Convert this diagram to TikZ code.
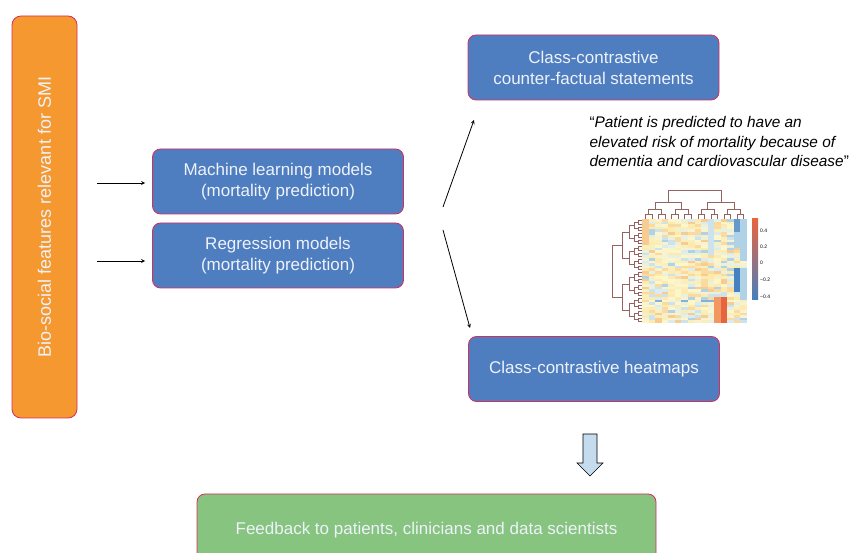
\documentclass[tikz,border=0pt]{standalone}
\usepackage{fontspec}
\setmainfont{Liberation Sans}
\usetikzlibrary{positioning}

\definecolor{boxblue}{RGB}{79,126,192}
\definecolor{boxedge}{RGB}{214,45,95}
\definecolor{boxorange}{RGB}{245,152,47}
\definecolor{boxgreen}{RGB}{134,196,127}
\definecolor{boxtext}{RGB}{238,242,250}
\definecolor{downfill}{RGB}{197,219,238}
\definecolor{dendro}{RGB}{150,100,96}
% heatmap colours
\definecolor{hm0}{RGB}{253,246,200}
\definecolor{hm1}{RGB}{250,238,186}
\definecolor{hm2}{RGB}{246,242,210}
\definecolor{hm3}{RGB}{252,234,175}
\definecolor{hm4}{RGB}{232,240,222}
\definecolor{hm5}{RGB}{250,218,158}
\definecolor{hm6}{RGB}{248,204,145}
\definecolor{hm7}{RGB}{220,236,238}
\definecolor{hm8}{RGB}{204,226,236}
\definecolor{hm9}{RGB}{176,210,230}
\definecolor{hmblue}{RGB}{70,128,190}
\definecolor{hmred}{RGB}{232,100,62}
\definecolor{hmorange}{RGB}{242,150,98}

\begin{document}
\begin{tikzpicture}[x=1pt, y=-1pt, >=stealth,
  box/.style={draw=boxedge, line width=0.8pt, rounded corners=8pt, text=boxtext,
    align=center, font=\fontsize{17}{21}\selectfont},
  model/.style={box, fill=boxblue, minimum width=251pt, minimum height=65pt}]

  \clip (0,0) rectangle (855,553);

  \node[box, fill=boxorange, rotate=90, minimum width=402pt, minimum height=65pt,
    rounded corners=9pt, font=\fontsize{18}{22}\selectfont] (bio) at (44.5,217) {Bio-social features relevant for SMI};

  \node[model] (ml) at (278,181.5) {Machine learning models\\(mortality prediction)};
  \node[model] (reg) at (278,255.5) {Regression models\\(mortality prediction)};
  \node[model] (cf) at (593.5,67.5) {Class-contrastive\\counter-factual statements};
  \node[model] (hm) at (594,369) {Class-contrastive heatmaps};
  \node[box, fill=boxgreen, minimum width=459pt, minimum height=72pt] (fb) at (426.5,530)
    {Feedback to patients, clinicians and data scientists};

  \node[anchor=north west, align=left, font=\fontsize{15.4}{19.5}\selectfont\itshape]
    (quote) at (586,113) {{\upshape“}Patient is predicted to have an\\elevated risk of mortality because of\\dementia and cardiovascular disease{\upshape”}};

  \coordinate (in1) at (97,183);
  \coordinate (in2) at (97,261);
  \coordinate (fork1) at (443,207);
  \coordinate (tip1) at (474,120);
  \coordinate (fork2) at (443,230);
  \coordinate (tip2) at (470,328);

  \draw[->, line width=0.8pt] (in1) -- (in1 -| ml.west) [shorten >=7pt];
  \draw[->, line width=0.8pt] (in2) -- (in2 -| reg.west) [shorten >=7pt];
  \draw[->, line width=0.8pt] (fork1) -- (tip1);
  \draw[->, line width=0.8pt] (fork2) -- (tip2);

  % block arrow down to the feedback box
  \draw[fill=downfill, line width=0.6pt] (583,434) -- (597,434) -- (597,463) -- (603,463)
    -- (590,476) -- (577,463) -- (583,463) -- cycle;

  % heatmap
  \begin{scope}[shift={(642,219)}]
    \pgfmathsetseed{11}
    \foreach \c in {0,...,15}{
      \foreach \r in {0,...,39}{
        \pgfmathrandominteger{\v}{0}{15}
        \pgfmathtruncatemacro\w{mod(\v,10)}
        \fill[hm\w] (\c*6.5625,\r*2.6) rectangle ++(6.5625,2.6);
      }
    }
    \fill[hm9] (15*6.5625,0) rectangle ++(6.5625,16*2.6);
    \fill[hmblue!70!hm9] (14*6.5625,0) rectangle ++(6.5625,5*2.6);
    \fill[hm9] (14*6.5625,5*2.6) rectangle ++(6.5625,6*2.6);
    \fill[hmblue] (14*6.5625,19*2.6) rectangle ++(6.5625,9*2.6);
    \fill[hm9] (15*6.5625,19*2.6) rectangle ++(6.5625,12*2.6);
    \fill[hmred] (12*6.5625,30*2.6) rectangle ++(6.5625,10*2.6);
    \fill[hmorange] (11*6.5625,30*2.6) rectangle ++(6.5625,10*2.6);
    \fill[hm6] (0,0) rectangle ++(6.5625,10*2.6);
    \fill[hm8] (10*6.5625,0) rectangle ++(6.5625,14*2.6);
    \foreach \c in {2,6,9,10}
      \fill[hm9!60!hmblue] (\c*6.5625,31*2.6) rectangle ++(6.5625,2.6);
  \end{scope}

  % dendrograms
  \foreach \k/\d/\p in {1/4/0, 2/8/4, 3/13/8, 4/20/13, 5/30/20}{
    \pgfmathtruncatemacro\n{32/2^\k-1}
    \foreach \g in {0,...,\n}
      \draw[dendro, line width=0.5pt]
        ({642-\p},{219+(\g*2^\k+2^\k/4)*3.25}) -- ({642-\d},{219+(\g*2^\k+2^\k/4)*3.25})
        -- ({642-\d},{219+(\g*2^\k+3*2^\k/4)*3.25}) -- ({642-\p},{219+(\g*2^\k+3*2^\k/4)*3.25});
  }
  \foreach \k/\d/\p in {1/5/0, 2/10/5, 3/17/10, 4/29/17}{
    \pgfmathtruncatemacro\n{16/2^\k-1}
    \foreach \g in {0,...,\n}
      \draw[dendro, line width=0.5pt]
        ({642+(\g*2^\k+2^\k/4)*6.5625},{219-\p}) -- ({642+(\g*2^\k+2^\k/4)*6.5625},{219-\d})
        -- ({642+(\g*2^\k+3*2^\k/4)*6.5625},{219-\d}) -- ({642+(\g*2^\k+3*2^\k/4)*6.5625},{219-\p});
  }

  % colour key
  \shade[top color=hmred, middle color=hm0, bottom color=hmblue] (752,219) rectangle (758,300);
  \foreach \y/\t in {231/0.4, 247/0.2, 263/0, 280/−0.2, 297/−0.4}
    \node[anchor=west, inner sep=0pt, font=\fontsize{5}{6}\selectfont] at (760,\y) {\t};
\end{tikzpicture}
\end{document}
